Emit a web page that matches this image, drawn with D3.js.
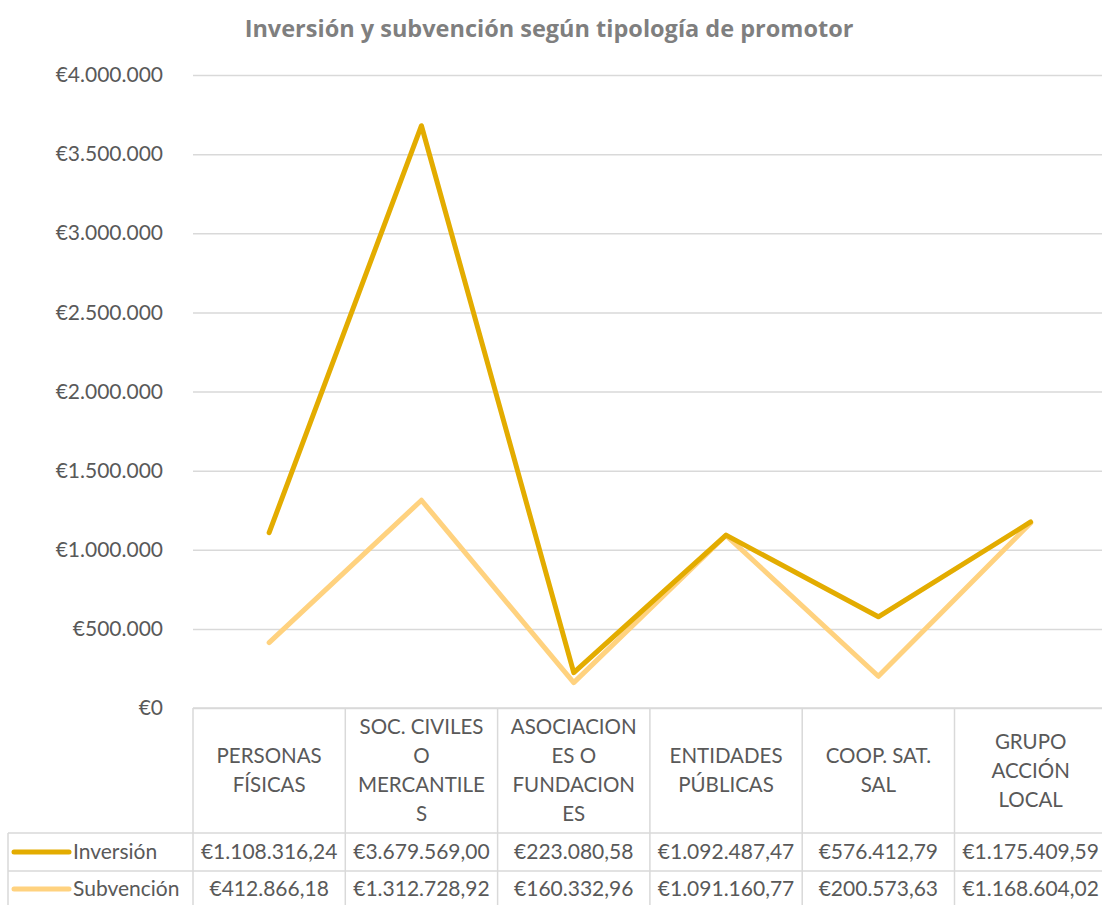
<!DOCTYPE html>
<html>
<head>
<meta charset="utf-8">
<script src="https://cdn.jsdelivr.net/npm/d3@7"></script>
<style>
  html, body { margin: 0; padding: 0; background: #fff; }
  svg { display: block; }
</style>
</head>
<body>
<svg id="chart" width="1102" height="905"></svg>
<script>
const title = "Inversión y subvención según tipología de promotor";
const categories = ["PERSONAS FÍSICAS", "SOC. CIVILES O MERCANTILES", "ASOCIACIONES O FUNDACIONES", "ENTIDADES PÚBLICAS", "COOP. SAT. SAL", "GRUPO ACCIÓN LOCAL"];
const categoryLines = [
  ["PERSONAS", "FÍSICAS"],
  ["SOC. CIVILES", "O", "MERCANTILE", "S"],
  ["ASOCIACION", "ES O", "FUNDACION", "ES"],
  ["ENTIDADES", "PÚBLICAS"],
  ["COOP. SAT.", "SAL"],
  ["GRUPO", "ACCIÓN", "LOCAL"]
];
const seriesNames = ["Inversión", "Subvención"];
const inversion = [1108316.24, 3679569.00, 223080.58, 1092487.47, 576412.79, 1175409.59];
const subvencion = [412866.18, 1312728.92, 160332.96, 1091160.77, 200573.63, 1168604.02];
const yTicks = [0, 500000, 1000000, 1500000, 2000000, 2500000, 3000000, 3500000, 4000000];
const colors = ["#E3AC00", "#FFD27F"];

const series = [inversion, subvencion];
const locale = d3.formatLocale({decimal: ",", thousands: ".", grouping: [3], currency: ["€", ""]});
const fmtAxis = locale.format("$,.0f");
const fmtVal = locale.format("$,.2f");

const W = 1102, H = 905;
const plotLeft = 193, colW = 152.3;
const yTop = 75, yBottom = 708;
const headerBottom = 833, row1Bottom = 871;
const legendLeft = 8;
const gridColor = "#D9D9D9", textColor = "#595959";
const font = "Lato, 'Open Sans', sans-serif";
const fs = 20.5, fsVal = 21;

const svg = d3.select("#chart");

const x = d3.scaleBand().domain(categories).range([plotLeft, plotLeft + colW * categories.length]).padding(0);
const y = d3.scaleLinear().domain([0, 4000000]).range([yBottom, yTop]);

// title
svg.append("text")
  .attr("x", 549).attr("y", 37)
  .attr("text-anchor", "middle")
  .attr("font-family", "'Open Sans', sans-serif")
  .attr("font-weight", 700)
  .attr("font-size", 23.5)
  .attr("fill", "#7F7F7F")
  .text(title);

// y axis with gridlines
const yAxis = d3.axisLeft(y).tickValues(yTicks).tickFormat(fmtAxis)
  .tickSizeInner(-(W - plotLeft)).tickSizeOuter(0).tickPadding(30);
const gy = svg.append("g").attr("transform", `translate(${plotLeft},0)`).call(yAxis);
gy.select(".domain").remove();
gy.selectAll(".tick line").attr("stroke", gridColor).attr("stroke-width", 1.5);
gy.selectAll(".tick text").attr("font-family", font).attr("font-size", fsVal).attr("fill", textColor);

// data table grid
const tg = svg.append("g").attr("stroke", gridColor).attr("stroke-width", 1.5).attr("fill", "none");
tg.append("line").attr("x1", plotLeft).attr("x2", W).attr("y1", yBottom).attr("y2", yBottom);
tg.append("line").attr("x1", legendLeft).attr("x2", W).attr("y1", headerBottom).attr("y2", headerBottom);
tg.append("line").attr("x1", legendLeft).attr("x2", W).attr("y1", row1Bottom).attr("y2", row1Bottom);
tg.append("line").attr("x1", legendLeft).attr("x2", legendLeft).attr("y1", headerBottom).attr("y2", H);
const bounds = categories.map(c => x(c)).concat([x(categories[categories.length - 1]) + x.bandwidth()]);
bounds.forEach(b => {
  tg.append("line").attr("x1", b).attr("x2", b).attr("y1", yBottom).attr("y2", H);
});

// category header labels
const lineH = 29;
categories.forEach((c, i) => {
  const lines = categoryLines[i];
  const cy = (yBottom + headerBottom) / 2;
  const startY = cy - (lines.length - 1) * lineH / 2;
  const t = svg.append("text")
    .attr("text-anchor", "middle")
    .attr("font-family", font).attr("font-size", fs).attr("fill", textColor);
  lines.forEach((ln, k) => {
    t.append("tspan").attr("x", x(c) + x.bandwidth() / 2).attr("y", startY + k * lineH)
      .attr("dy", "0.35em").text(ln);
  });
});

// value rows + legend
const rowCenters = [(headerBottom + row1Bottom) / 2, (row1Bottom + H) / 2 + 1];
series.forEach((vals, s) => {
  const cy = rowCenters[s];
  svg.append("line").attr("x1", 14).attr("x2", 69).attr("y1", cy).attr("y2", cy)
    .attr("stroke", colors[s]).attr("stroke-width", 5).attr("stroke-linecap", "round");
  svg.append("text").attr("x", 73).attr("y", cy).attr("dy", "0.35em")
    .attr("font-family", font).attr("font-size", fsVal).attr("fill", textColor)
    .text(seriesNames[s]);
  vals.forEach((v, i) => {
    svg.append("text")
      .attr("x", x(categories[i]) + x.bandwidth() / 2).attr("y", cy).attr("dy", "0.35em")
      .attr("text-anchor", "middle")
      .attr("font-family", font).attr("font-size", fsVal).attr("fill", textColor)
      .text(fmtVal(v));
  });
});

// lines
const line = d3.line()
  .x((d, i) => x(categories[i]) + x.bandwidth() / 2)
  .y(d => y(d));
[1, 0].forEach(s => {
  svg.append("path").datum(series[s])
    .attr("d", line)
    .attr("fill", "none")
    .attr("stroke", colors[s])
    .attr("stroke-width", 5)
    .attr("stroke-linejoin", "round")
    .attr("stroke-linecap", "round");
});
</script>
</body>
</html>
